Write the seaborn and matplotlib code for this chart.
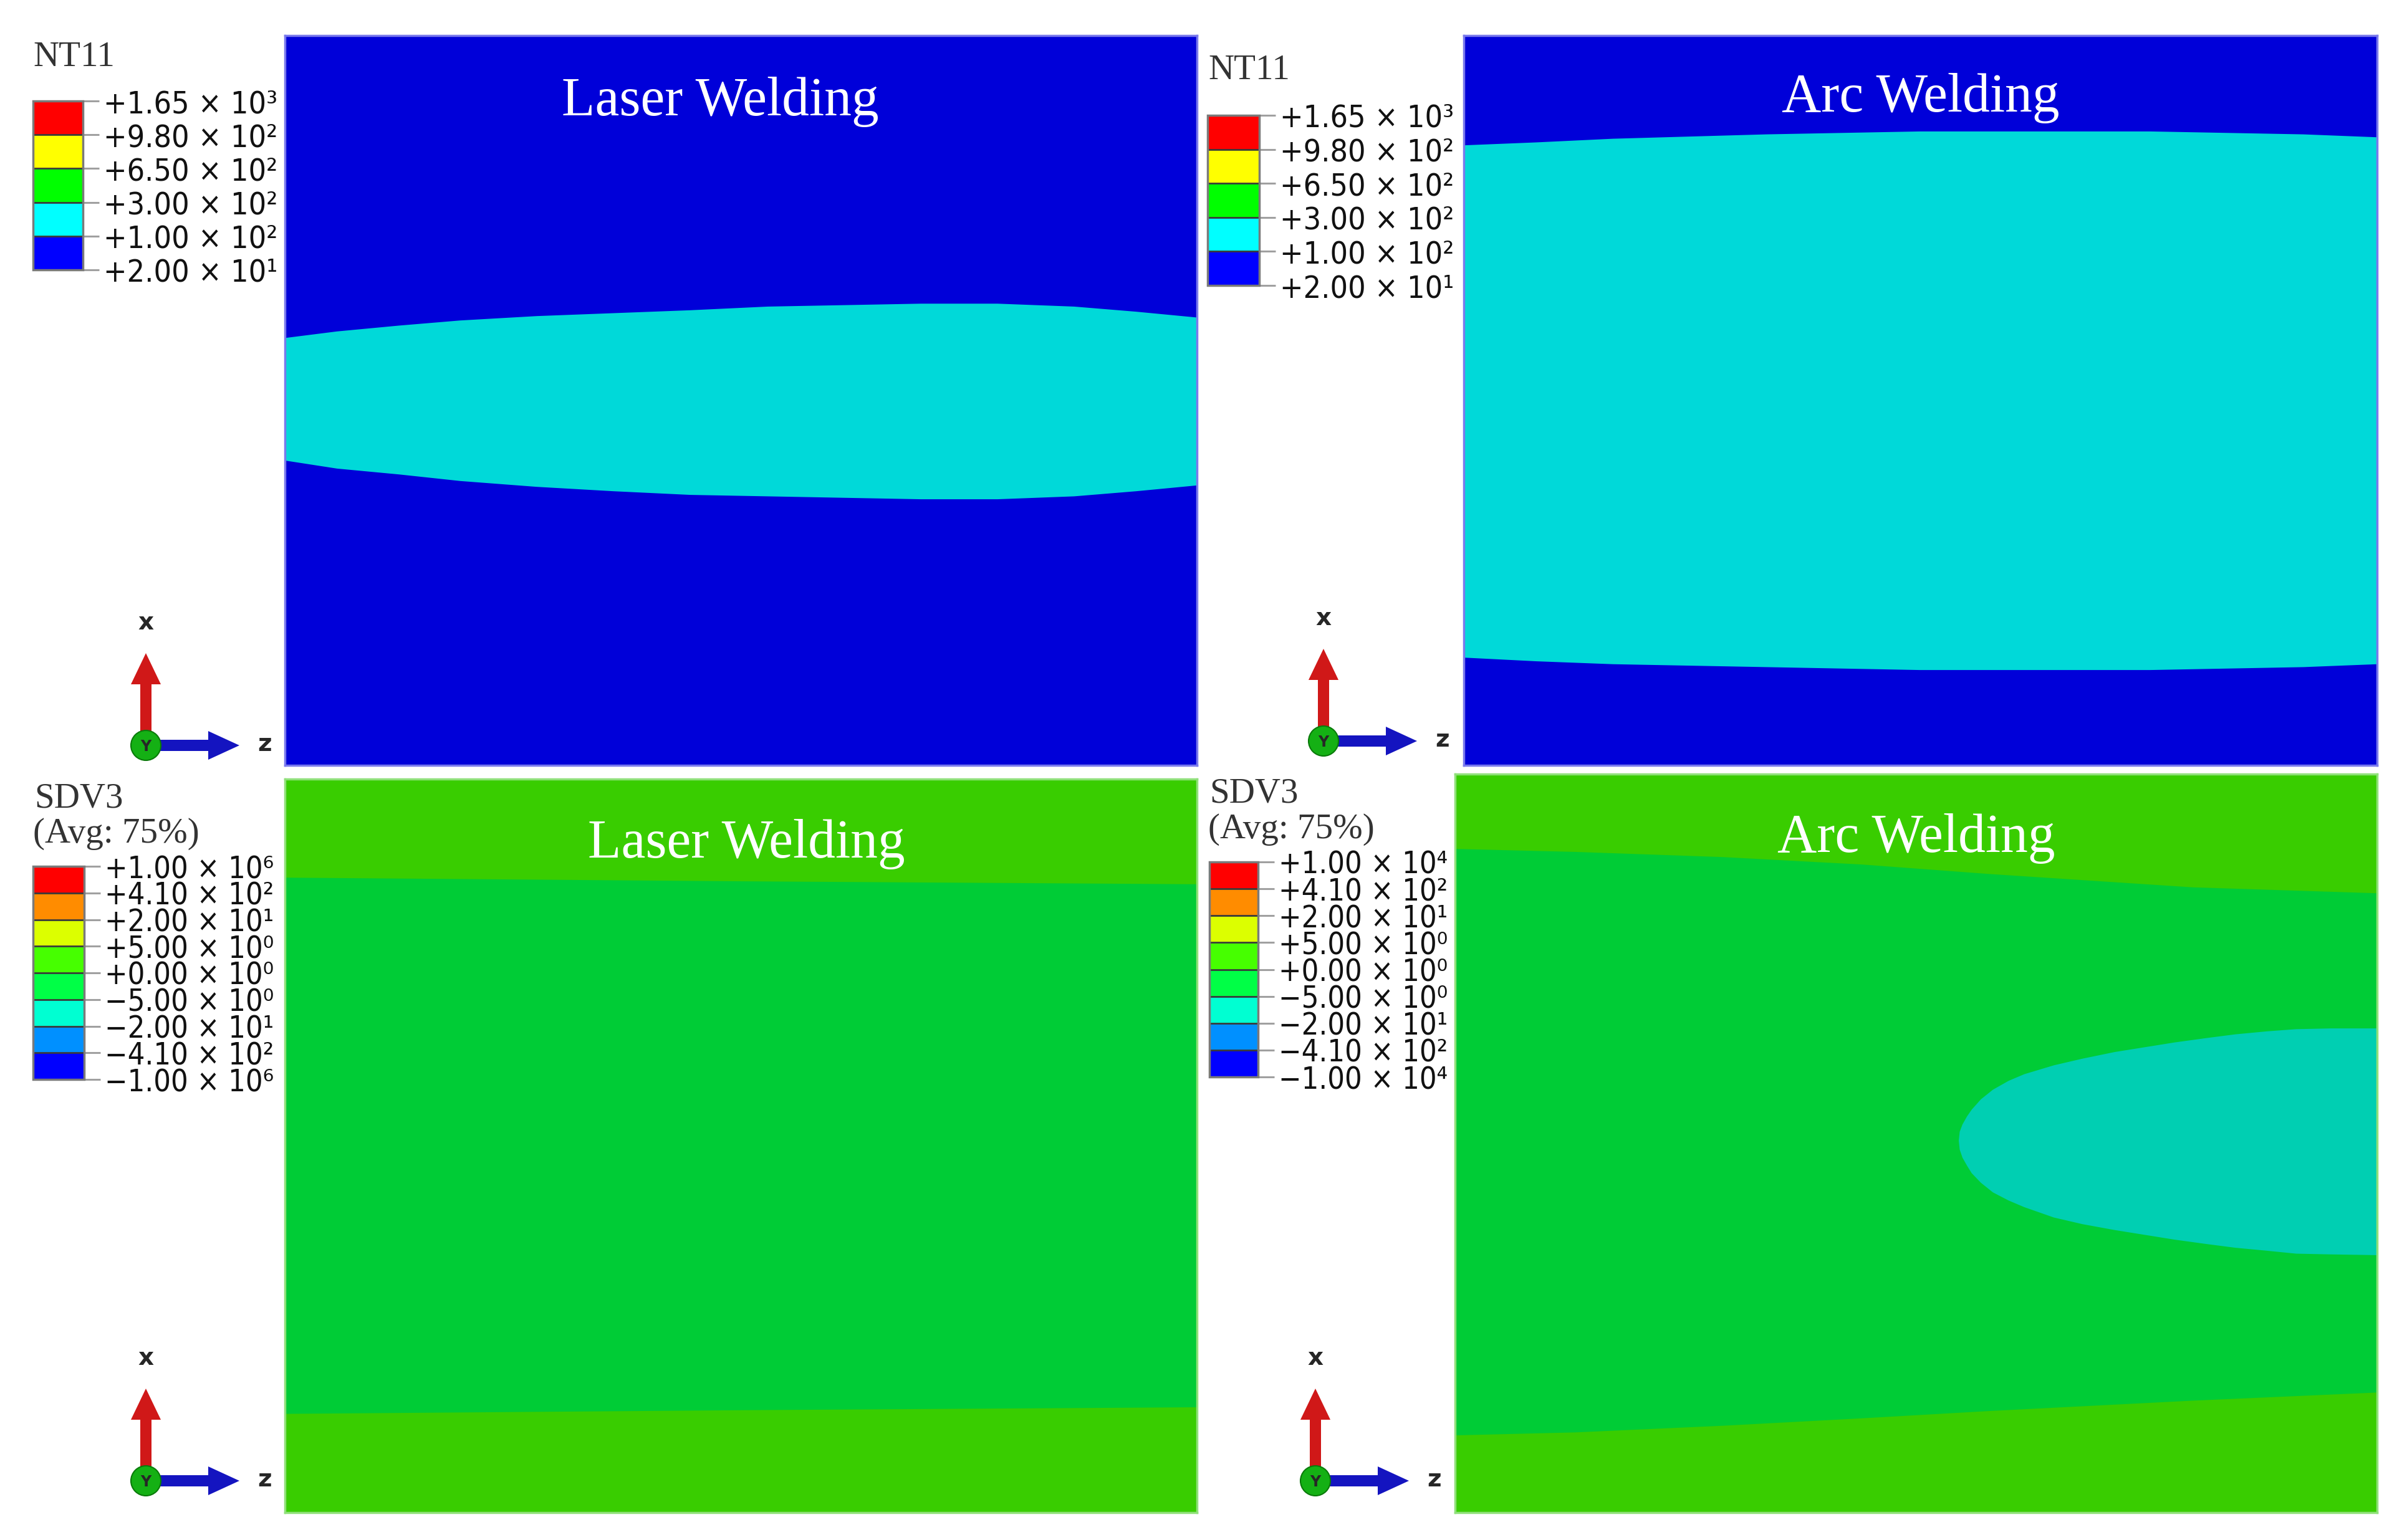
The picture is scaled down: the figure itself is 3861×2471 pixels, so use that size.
import numpy as np
import matplotlib
matplotlib.use('Agg')
import matplotlib.pyplot as plt
import seaborn as sns
from matplotlib.colors import ListedColormap, BoundaryNorm
from matplotlib.cm import ScalarMappable
from matplotlib.patches import Circle, FancyArrow

sns.set_theme(style='white')
plt.rcParams['font.family'] = ['DejaVu Sans']

W, H = 3861, 2471

# ---- contour boundaries (z = fraction of panel width, values = fraction of panel height from top)
z_laser_nt = [0.0, 0.057, 0.125, 0.192, 0.276, 0.360, 0.444, 0.529, 0.613, 0.697, 0.781, 0.865, 0.933, 1.0]
laser_nt_top = [0.414, 0.405, 0.397, 0.390, 0.384, 0.380, 0.376, 0.371, 0.369, 0.367, 0.367, 0.371, 0.378, 0.386]
laser_nt_bot = [0.582, 0.593, 0.601, 0.610, 0.618, 0.624, 0.629, 0.631, 0.633, 0.635, 0.635, 0.631, 0.624, 0.616]

z_arc_nt = [0.0, 0.079, 0.163, 0.247, 0.331, 0.415, 0.499, 0.583, 0.667, 0.751, 0.835, 0.919, 1.0]
arc_nt_top = [0.150, 0.146, 0.141, 0.138, 0.135, 0.133, 0.131, 0.131, 0.131, 0.131, 0.133, 0.135, 0.139]
arc_nt_bot = [0.852, 0.857, 0.861, 0.863, 0.865, 0.867, 0.869, 0.869, 0.869, 0.869, 0.867, 0.865, 0.861]

z_laser_sd = [0.0, 0.5, 1.0]
laser_sd_top = [0.134, 0.139, 0.143]
laser_sd_bot = [0.865, 0.860, 0.856]

z_arc_sd = [0.0, 0.13, 0.29, 0.44, 0.58, 0.80, 1.0]
arc_sd_top = [0.101, 0.105, 0.112, 0.122, 0.135, 0.153, 0.161]
arc_sd_bot = [0.895, 0.891, 0.882, 0.872, 0.862, 0.848, 0.837]

z_arc_ell = [0.546, 0.547, 0.550, 0.555, 0.560, 0.570, 0.583, 0.600, 0.617, 0.649, 0.680,
             0.715, 0.750, 0.780, 0.815, 0.846, 0.880, 0.912, 0.950, 1.0]
arc_ell_top = [0.496, 0.484, 0.474, 0.463, 0.454, 0.440, 0.427, 0.415, 0.406, 0.394, 0.385,
               0.376, 0.369, 0.363, 0.357, 0.352, 0.348, 0.345, 0.344, 0.344]
arc_ell_bot = [0.496, 0.508, 0.519, 0.530, 0.540, 0.553, 0.566, 0.577, 0.586, 0.600, 0.609,
               0.617, 0.624, 0.630, 0.636, 0.641, 0.645, 0.649, 0.650, 0.651]

# ---- legend contents (top to bottom)
nt_values = ['+1.65', '+9.80', '+6.50', '+3.00', '+1.00', '+2.00']
nt_exps = ['³', '²', '²', '²', '²', '¹']
nt_colors = ['#FF0000', '#FFFF00', '#00FF00', '#00FFFF', '#0000FF']

sd_values = ['+1.00', '+4.10', '+2.00', '+5.00', '+0.00', '−5.00', '−2.00', '−4.10', '−1.00']
sd_exps_laser = ['⁶', '²', '¹', '⁰', '⁰', '⁰', '¹', '²', '⁶']
sd_exps_arc = ['⁴', '²', '¹', '⁰', '⁰', '⁰', '¹', '²', '⁴']
sd_colors = ['#FF0000', '#FF8C00', '#DCFF00', '#46FF00', '#00FF46', '#00FFD2', '#0090FF', '#0000FF']

# shaded colours seen on the model
c_blue, c_cyan = '#0000D9', '#00D9D9'
c_lime, c_green, c_aqua = '#39CD00', '#00CC36', '#00CFB2'


def box(x0, y0, x1, y1):
    return [x0 / W, 1 - y1 / H, (x1 - x0) / W, (y1 - y0) / H]


fig = plt.figure(figsize=(W / 100, H / 100), dpi=100)
fig.patch.set_facecolor('white')


def panel(rect, base, edge, title, tx, ty):
    ax = fig.add_axes(rect)
    ax.set_facecolor(base)
    ax.set_xlim(0, 1)
    ax.set_ylim(1, 0)
    ax.set_xticks([])
    ax.set_yticks([])
    for s in ax.spines.values():
        s.set_visible(True)
        s.set_color(edge)
        s.set_linewidth(2.5)
    ax.text(tx, ty, title, color='white', fontsize=63, ha='center', va='center',
            family=['Liberation Serif', 'DejaVu Serif'], zorder=5)
    return ax


# top-left: laser NT11
ax = panel(box(457, 57, 1920, 1228), c_blue, '#7a7aec', 'Laser Welding', 0.477, 0.091)
ax.fill_between(z_laser_nt, laser_nt_top, laser_nt_bot, color=c_cyan, lw=0)

# top-right: arc NT11
ax = panel(box(2348, 57, 3813, 1228), c_blue, '#7a7aec', 'Arc Welding', 0.5, 0.086)
ax.fill_between(z_arc_nt, arc_nt_top, arc_nt_bot, color=c_cyan, lw=0)

# bottom-left: laser SDV3
ax = panel(box(457, 1250, 1920, 2427), c_green, '#90e07a', 'Laser Welding', 0.506, 0.089)
ax.fill_between(z_laser_sd, 0, laser_sd_top, color=c_lime, lw=0)
ax.fill_between(z_laser_sd, laser_sd_bot, 1, color=c_lime, lw=0)

# bottom-right: arc SDV3
ax = panel(box(2334, 1242, 3813, 2427), c_green, '#90e07a', 'Arc Welding', 0.5, 0.087)
ax.fill_between(z_arc_sd, 0, arc_sd_top, color=c_lime, lw=0)
ax.fill_between(z_arc_sd, arc_sd_bot, 1, color=c_lime, lw=0)
ax.fill_between(z_arc_ell, arc_ell_top, arc_ell_bot, color=c_aqua, lw=0)


def legend_bar(x0, y0, x1, y1, colors, values, exps, size):
    cax = fig.add_axes(box(x0, y0, x1, y1))
    n = len(colors)
    cmap = ListedColormap(colors[::-1])
    norm = BoundaryNorm(np.arange(n + 1), n)
    cb = fig.colorbar(ScalarMappable(norm=norm, cmap=cmap), cax=cax,
                      ticks=np.arange(n + 1), drawedges=True)
    labels = [f'{v} × 10{e}' for v, e in zip(values, exps)]
    cb.set_ticklabels(labels[::-1])
    cb.outline.set_edgecolor('#7a7a7a')
    cb.outline.set_linewidth(2.5)
    cb.dividers.set_color('#3a3a3a')
    cb.dividers.set_linewidth(2)
    cax.yaxis.set_ticks_position('right')
    cax.tick_params(axis='y', which='major', right=True, length=19, width=2.2,
                    color='#a0a0a0', pad=5, labelsize=size, labelcolor='#111111')
    for t in cax.get_yticklabels():
        t.set_fontstretch('condensed')
    return cax


legend_bar(53, 162, 133, 433, nt_colors, nt_values, nt_exps, 36)
legend_bar(1937, 185, 2020, 458, nt_colors, nt_values, nt_exps, 36)
legend_bar(53, 1390, 135, 1732, sd_colors, sd_values, sd_exps_laser, 35)
legend_bar(1940, 1383, 2018, 1728, sd_colors, sd_values, sd_exps_arc, 35)

serif = ['Liberation Serif', 'DejaVu Serif']
fig.text(53 / W, 1 - 92 / H, 'NT11', fontsize=41, family=serif, color='#333333', va='center')
fig.text(1938 / W, 1 - 113 / H, 'NT11', fontsize=41, family=serif, color='#333333', va='center')
fig.text(55 / W, 1 - 1282 / H, 'SDV3', fontsize=41, family=serif, color='#333333', va='center')
fig.text(53 / W, 1 - 1338 / H, '(Avg: 75%)', fontsize=41, family=serif, color='#333333', va='center')
fig.text(1940 / W, 1 - 1274 / H, 'SDV3', fontsize=41, family=serif, color='#333333', va='center')
fig.text(1938 / W, 1 - 1331 / H, '(Avg: 75%)', fontsize=41, family=serif, color='#333333', va='center')


def triad(cx, cy):
    tax = fig.add_axes(box(cx - 60, cy - 240, cx + 240, cy + 60))
    tax.set_xlim(-60, 240)
    tax.set_ylim(60, -240)
    tax.axis('off')
    tax.add_patch(FancyArrow(0, 0, 0, -148, width=18, head_width=48, head_length=50,
                             length_includes_head=True, color='#d01818', lw=0))
    tax.add_patch(FancyArrow(0, 0, 150, 0, width=18, head_width=46, head_length=50,
                             length_includes_head=True, color='#1414c0', lw=0))
    tax.add_patch(Circle((0, 0), 24, facecolor='#14b014', edgecolor='#0a7a0a', lw=1.5, zorder=3))
    tax.text(0, 2, 'Y', fontsize=17, fontweight='bold', ha='center', va='center', zorder=4)
    tax.text(0, -197, 'x', fontsize=28, fontweight='bold', ha='center', va='center')
    tax.text(191, -2, 'z', fontsize=28, fontweight='bold', ha='center', va='center')


triad(234, 1196)
triad(2123, 1189)
triad(234, 2376)
triad(2110, 2376)

fig.savefig('out.png', dpi=100)
